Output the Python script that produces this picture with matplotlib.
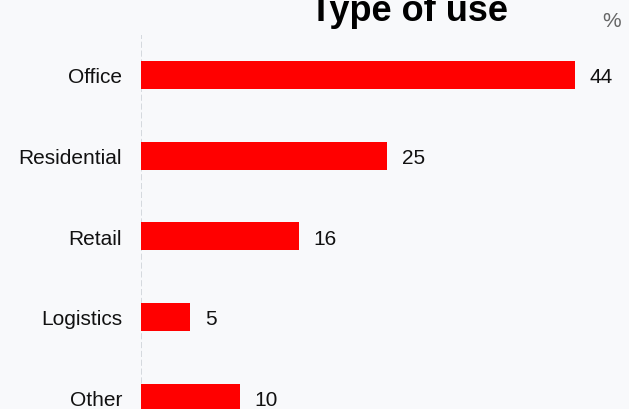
import matplotlib
matplotlib.use('Agg')
import matplotlib.pyplot as plt

categories = ['Office', 'Residential', 'Retail', 'Logistics', 'Other']
values = [44, 25, 16, 5, 10]

plt.rcParams['font.family'] = ['Liberation Sans', 'DejaVu Sans']
bg = '#f8f9fb'

fig = plt.figure(figsize=(6.29, 4.10), dpi=100, facecolor=bg)
ax = fig.add_axes([141 / 629, 1 - 439 / 410, (629 - 141) / 629, (439 - 35.6) / 410])
ax.set_facecolor(bg)

pos = list(range(len(categories)))
ax.barh(pos, values, height=0.35, color='#ff0000')
for p, v in zip(pos, values):
    ax.text(v + 1.5, p, str(v), va='center_baseline', ha='left', fontsize=15, color='#111111')

ax.set_ylim(4.5, -0.5)
ax.set_xlim(0, 49.5)
ax.set_yticks(pos)
ax.set_yticklabels(categories, fontsize=15, color='#111111')
ax.tick_params(axis='y', length=0, pad=13.5)
ax.set_xticks([])
for s in ax.spines.values():
    s.set_visible(False)
ax.axvline(0, color='#cfd3d9', linestyle='--', linewidth=1.2, zorder=0)

fig.text(409 / 629, 1 - 21 / 410, 'Type of use', ha='center', va='baseline',
         fontsize=26, fontweight='bold', color='#000000')
fig.text(612 / 629, 1 - 27 / 410, '%', ha='center', va='baseline', fontsize=15, color='#666666')

fig.savefig('out.png', dpi=100, facecolor=bg)
